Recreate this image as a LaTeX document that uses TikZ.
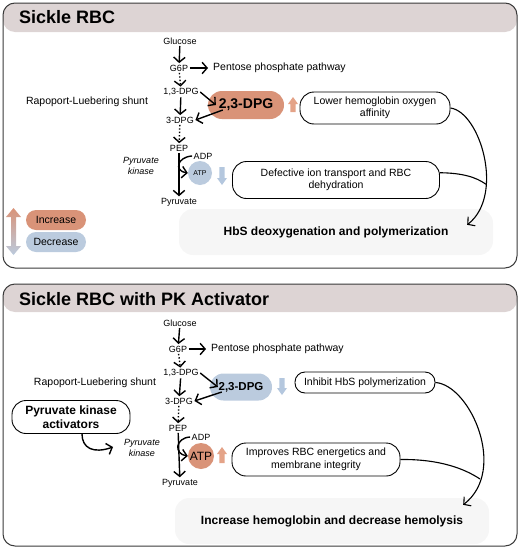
\documentclass[tikz,border=0pt]{standalone}
\usepackage{fontspec}
\setmainfont{Liberation Sans}
\usetikzlibrary{arrows.meta,shapes.misc,calc}
\definecolor{salmon}{RGB}{217,147,120}
\definecolor{salmonarr}{RGB}{228,163,136}
\definecolor{bluefill}{RGB}{187,203,222}
\definecolor{bluearr}{RGB}{180,199,222}
\definecolor{headband}{RGB}{221,212,212}
\definecolor{outfill}{RGB}{246,246,246}
\definecolor{framecol}{RGB}{58,58,58}
\tikzset{
  chev/.style={line width=1.4pt, -{Straight Barb[length=5pt,width=11.5pt]}},
  dchev/.style={chev, dash pattern=on 1.4pt off 2pt},
  conn/.style={line width=1.1pt},
  lbl/.style={font=\fontsize{9}{10}\selectfont, inner sep=1.5pt},
  pk/.style={font=\itshape\fontsize{9}{10.5}\selectfont, align=center, inner sep=1pt},
  plain/.style={font=\fontsize{10.5}{12}\selectfont, inner sep=1pt},
  effbox/.style={draw=black, line width=0.9pt, rounded corners=14pt, align=center, font=\fontsize{10.5}{12.5}\selectfont, inner sep=0pt},
  outbox/.style={fill=outfill, rounded corners=14pt, font=\bfseries\fontsize{12}{14}\selectfont, inner sep=0pt},
  dpgnode/.style={rounded rectangle, inner sep=0pt},
  atpnode/.style={circle, inner sep=0pt},
  frame/.style={draw=framecol, line width=1pt, rounded corners=12pt},
  band/.style={fill=headband, rounded corners=12pt},
  ttl/.style={anchor=west, font=\bfseries\fontsize{18}{20}\selectfont, inner sep=0pt},
  legpill/.style={rounded rectangle, minimum width=60pt, minimum height=20pt, inner sep=0pt, font=\fontsize{10.5}{12}\selectfont},
}
\newcommand{\blkup}[4]{%
  \fill[#4] (#1,#2) -- (#1+5,#2+7) -- (#1+2.6,#2+7) -- (#1+2.6,#3) -- (#1-2.6,#3) -- (#1-2.6,#2+7) -- (#1-5,#2+7) -- cycle;}
\newcommand{\blkdown}[4]{%
  \fill[#4] (#1,#3) -- (#1+5,#3-7) -- (#1+2.6,#3-7) -- (#1+2.6,#2) -- (#1-2.6,#2) -- (#1-2.6,#3-7) -- (#1-5,#3-7) -- cycle;}
\begin{document}
\begin{tikzpicture}[x=1pt,y=-1pt]
\useasboundingbox (0,0) rectangle (520,549);

% ================= Panel 1 =================
\fill[band] (3,3) rectangle (517,32);
\draw[frame] (3,3) rectangle (517,268);
\node[ttl] (t1) at (19,17.5) {Sickle RBC};

\node[lbl] (glc1) at (180,41) {Glucose};
\node[lbl] (g6p1) at (179,68) {G6P};
\node[plain, anchor=west] (ppp1) at (212,68) {Pentose phosphate pathway};
\node[lbl] (dpgA1) at (181,92) {1,3-DPG};
\node[lbl] (dpgC1) at (180,120) {3-DPG};
\node[lbl] (pep1) at (179,148) {PEP};
\node[lbl] (pyr1) at (179,202) {Pyruvate};
\node[lbl] (adp1) at (203,156) {ADP};
\node[plain] (rls1) at (87,102) {Rapoport-Luebering shunt};
\node[pk] (pk1) at (141,166) {Pyruvate\\kinase};

\node[dpgnode, fill=salmon, minimum width=76pt, minimum height=28pt, font=\bfseries\fontsize{14}{16}\selectfont] (dpgB1) at (246,105) {2,3-DPG};
\node[atpnode, fill=bluefill, minimum size=24pt, font=\fontsize{7}{8}\selectfont] (atp1) at (200,173) {ATP};
\blkup{293}{97}{112}{salmonarr}
\blkdown{222}{167}{185}{bluearr}

\node[effbox, minimum width=150pt, minimum height=32pt] (low1) at (375,108) {Lower hemoglobin oxygen\\affinity};
\node[effbox, minimum width=207pt, minimum height=37pt] (def1) at (336,180) {Defective ion transport and RBC\\dehydration};
\node[outbox, minimum width=314pt, minimum height=46pt] (hbs1) at (336,232) {HbS deoxygenation and polymerization};

\draw[chev] (glc1) -- (g6p1);
\draw[chev, shorten >=4pt] (g6p1.east) -- (ppp1.west);
\draw[dchev] (g6p1) -- (dpgA1);
\draw[chev] (dpgA1) -- (dpgC1);
\draw[dchev] (dpgC1) -- (pep1);
\draw[chev] (pep1) -- (pyr1);
\draw[chev] (dpgA1.east) -- ($(dpgB1.west)+(8,0)$);
\draw[chev] ($(dpgB1.west)+(15,5)$) -- (dpgC1.east);
\draw[chev] (adp1.west) .. controls ($(adp1.west)+(-15,1)$) and ($(atp1.west)+(-14,-2)$) .. (atp1.west);

\coordinate (hbsIn1) at ($(hbs1.north east)+(-26,16)$);
\draw[chev, line width=1.1pt] (low1.east) .. controls (480,112) and (505,195) .. (hbsIn1);
\coordinate (join1) at (486,184.3);
\draw[conn] (def1.4) .. controls (462,173) and (476,177) .. (join1);

% legend
\shade[top color=salmon, bottom color=bluefill] (13.5,208) -- (21,217) -- (16,217) -- (16,246) -- (21,246) -- (13.5,255) -- (6,246) -- (11,246) -- (11,217) -- (6,217) -- cycle;
\node[legpill, fill=salmon] (inc) at (56,220) {Increase};
\node[legpill, fill=bluefill] (dec) at (56,242) {Decrease};

% ================= Panel 2 =================
\fill[band] (3,284) rectangle (517,312);
\draw[frame] (3,284) rectangle (517,546);
\node[ttl] (t2) at (19,299.5) {Sickle RBC with PK Activator};

\node[lbl] (glc2) at (180,323) {Glucose};
\node[lbl] (g6p2) at (178,349) {G6P};
\node[plain, anchor=west] (ppp2) at (210,349) {Pentose phosphate pathway};
\node[lbl] (dpgA2) at (181,373) {1,3-DPG};
\node[lbl] (dpgC2) at (179,401) {3-DPG};
\node[lbl] (pep2) at (178,428) {PEP};
\node[lbl] (pyr2) at (180,483) {Pyruvate};
\node[lbl] (adp2) at (201,437) {ADP};
\node[plain] (rls2) at (95,383) {Rapoport-Luebering shunt};
\node[pk] (pk2) at (142,448) {Pyruvate\\kinase};

\node[dpgnode, fill=bluefill, minimum width=62pt, minimum height=27pt, font=\bfseries\fontsize{11.5}{13}\selectfont] (dpgB2) at (241,387) {2,3-DPG};
\node[atpnode, fill=salmon, minimum size=26pt, font=\fontsize{12}{13}\selectfont] (atp2) at (201,456) {ATP};
\blkdown{282}{378}{395}{bluearr}
\blkup{222}{447}{463}{salmonarr}

\node[effbox, rounded corners=10pt, minimum width=140pt, minimum height=21pt] (inh2) at (365,382.5) {Inhibit HbS polymerization};
\node[effbox, minimum width=168pt, minimum height=33pt] (imp2) at (316,459.5) {Improves RBC energetics and\\membrane integrity};
\node[outbox, minimum width=314pt, minimum height=46pt] (hem2) at (332,521) {Increase hemoglobin and decrease hemolysis};
\node[draw=black, line width=0.9pt, rounded corners=14pt, align=center, font=\bfseries\fontsize{12}{14}\selectfont, minimum width=118pt, minimum height=33pt, inner sep=0pt] (act2) at (71,417) {Pyruvate kinase\\activators};

\draw[chev] (glc2) -- (g6p2);
\draw[chev, shorten >=4pt] (g6p2.east) -- (ppp2.west);
\draw[dchev] (g6p2) -- (dpgA2);
\draw[chev] (dpgA2) -- (dpgC2);
\draw[dchev] (dpgC2) -- (pep2);
\draw[chev] (pep2) -- (pyr2);
\draw[chev] (dpgA2.east) -- ($(dpgB2.west)+(8,0)$);
\draw[chev] ($(dpgB2.west)+(12,5)$) -- (dpgC2.east);
\draw[chev] (adp2.west) .. controls ($(adp2.west)+(-15,1)$) and ($(atp2.west)+(-14,-2)$) .. (atp2.west);
\draw[chev] ($(act2.south)+(11,0)$) .. controls ($(act2.south)+(11,14)$) and ($(act2.south)+(22,20)$) .. ($(pk2.west)+(-10,-1)$);

\coordinate (hemIn2) at ($(hem2.north east)+(-26,7)$);
\draw[chev, line width=1.1pt] (inh2.east) .. controls (470,385) and (508,470) .. (hemIn2);
\coordinate (join2) at (480,479);
\draw[conn] (imp2.east) .. controls (440,459) and (465,469) .. (join2);

\end{tikzpicture}
\end{document}
